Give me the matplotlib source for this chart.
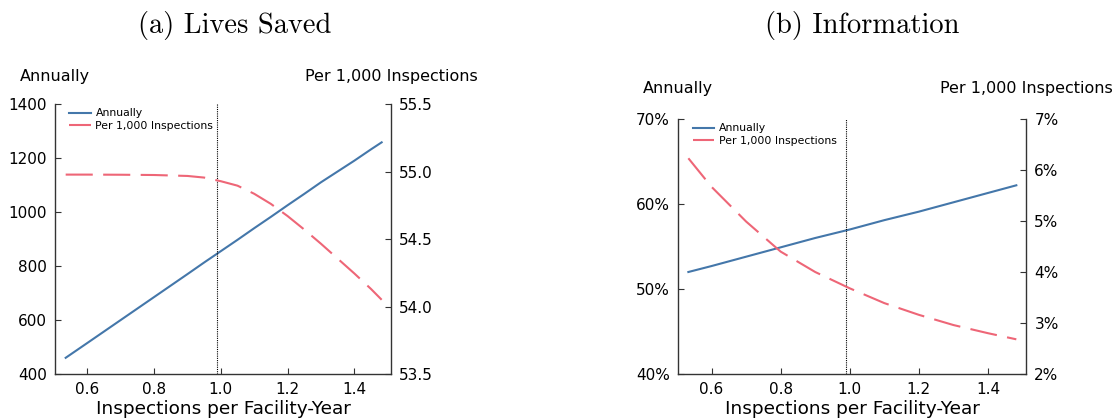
import matplotlib
matplotlib.use("Agg")
import matplotlib.pyplot as plt
from matplotlib.ticker import FuncFormatter

# ---- data ----
x_a = [0.535, 0.6, 0.7, 0.8, 0.9, 0.95, 1.0, 1.05, 1.1, 1.15, 1.2, 1.25, 1.3, 1.35, 1.4, 1.45, 1.482]
lives_annual = [460, 515, 600, 685, 770, 813, 855, 897, 940, 982, 1025, 1067, 1110, 1150, 1190, 1232, 1258]
lives_per1000 = [54.977, 54.977, 54.976, 54.974, 54.967, 54.955, 54.928, 54.895, 54.835, 54.76,
                 54.67, 54.57, 54.465, 54.355, 54.245, 54.13, 54.05]

x_b = [0.533, 0.6, 0.7, 0.8, 0.9, 1.0, 1.1, 1.2, 1.3, 1.4, 1.482]
info_annual = [52.0, 52.7, 53.8, 54.9, 56.0, 57.0, 58.1, 59.1, 60.2, 61.3, 62.2]
info_per1000 = [6.23, 5.67, 4.99, 4.40, 4.00, 3.68, 3.39, 3.16, 2.96, 2.80, 2.68]

vline_x = 0.99
titles = ["(a) Lives Saved", "(b) Information"]
xlabel = "Inspections per Facility-Year"
left_label = "Annually"
right_label = "Per 1,000 Inspections"

BLUE = "#4477AA"
RED = "#EE6677"
W, H = 1114, 419
fig = plt.figure(figsize=(W / 100, H / 100), dpi=100)
plt.rcParams['font.family'] = ['DejaVu Sans']


def px_axes(x0, x1, ytop, ybot):
    return fig.add_axes([x0 / W, (H - ybot) / H, (x1 - x0) / W, (ybot - ytop) / H])


def style(ax, ax2):
    for a in (ax, ax2):
        a.spines['top'].set_visible(False)
        for s in a.spines.values():
            s.set_color('#333333')
            s.set_linewidth(1.0)
        a.tick_params(direction='in', length=4, width=0.8, labelsize=11, color='#333333', pad=6)
    ax.spines['right'].set_visible(False)
    ax2.spines['left'].set_visible(False)
    ax2.spines['bottom'].set_visible(False)


panels = [
    dict(box=(55, 391, 104, 374), x=x_a, ya=lives_annual, yb=lives_per1000,
         ylim=(400, 1400), yticks=[400, 600, 800, 1000, 1200, 1400],
         y2lim=(53.5, 55.5), y2ticks=[53.5, 54.0, 54.5, 55.0, 55.5],
         fmt=lambda v, p: f"{v:.0f}", fmt2=lambda v, p: f"{v:.1f}",
         title_x=235, lab_y=77, lab_l=20, lab_r=478),
    dict(box=(678, 1026, 119, 374), x=x_b, ya=info_annual, yb=info_per1000,
         ylim=(40, 70), yticks=[40, 50, 60, 70],
         y2lim=(2, 7), y2ticks=[2, 3, 4, 5, 6, 7],
         fmt=lambda v, p: f"{v:.0f}%", fmt2=lambda v, p: f"{v:.0f}%",
         title_x=862, lab_y=88, lab_l=643, lab_r=1113),
]

for i, P in enumerate(panels):
    ax = px_axes(*P['box'])
    ax2 = ax.twinx()
    l1, = ax.plot(P['x'], P['ya'], color=BLUE, lw=1.5, label=left_label)
    l2, = ax2.plot(P['x'], P['yb'], color=RED, lw=1.5, ls=(0, (13, 5)), label=right_label)
    ax.axvline(vline_x, color='black', lw=0.8, ls=(0, (1, 1)))
    ax.set_xlim(0.503, 1.51)
    ax.set_xticks([0.6, 0.8, 1.0, 1.2, 1.4])
    ax.xaxis.set_major_formatter(FuncFormatter(lambda v, p: f"{v:.1f}"))
    ax.set_ylim(*P['ylim'])
    ax.set_yticks(P['yticks'])
    ax.yaxis.set_major_formatter(FuncFormatter(P['fmt']))
    ax2.set_ylim(*P['y2lim'])
    ax2.set_yticks(P['y2ticks'])
    ax2.yaxis.set_major_formatter(FuncFormatter(P['fmt2']))
    style(ax, ax2)
    ax.set_xlabel(xlabel, fontsize=13.3, labelpad=2)
    ax.legend([l1, l2], [left_label, right_label], loc='upper left', frameon=False,
              fontsize=7.8, handlelength=2.0, handletextpad=0.4, borderaxespad=0.0,
              labelspacing=0.25, bbox_to_anchor=(0.03, 1.0))
    fig.text(P['lab_l'] / W, 1 - P['lab_y'] / H, left_label, fontsize=11.5, ha='left', va='center')
    fig.text(P['lab_r'] / W, 1 - P['lab_y'] / H, right_label, fontsize=11.5, ha='right', va='center')
    fig.text(P['title_x'] / W, 1 - 25 / H, titles[i], family='cmr10', fontsize=20.5,
             ha='center', va='center')

fig.savefig("out.png", dpi=100)
